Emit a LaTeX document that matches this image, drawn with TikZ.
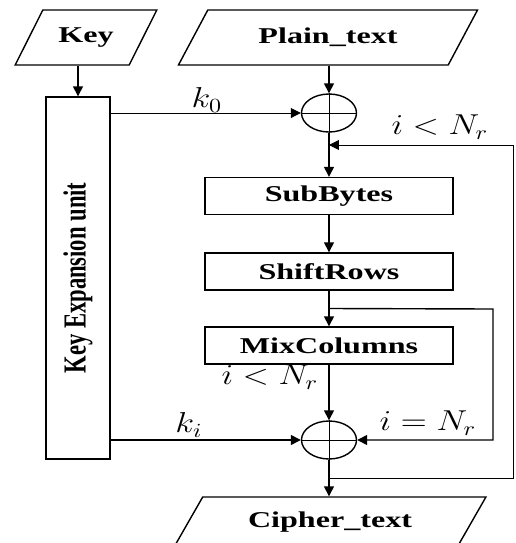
\documentclass[tikz,border=0pt]{standalone}
\usepackage{fontspec}
\setmainfont{Liberation Serif}
\usepackage{graphicx}
\usetikzlibrary{arrows.meta,shapes.geometric,calc}

% the whole figure is stretched sideways
\newcommand{\wide}[1]{\scalebox{1.42}[1]{#1}}
\newcommand{\mwide}[1]{\scalebox{1.2}[1]{#1}}

\begin{document}
\begin{tikzpicture}[x=0.5pt, y=-0.5pt, line width=0.7pt, >={Triangle[length=5pt,width=5pt]},
	io/.style={draw, trapezium, trapezium left angle=48, trapezium right angle=132, trapezium stretches=true, minimum height=27.5pt, inner sep=0pt, font=\bfseries\fontsize{11.3}{13}\selectfont},
	blk/.style={draw, rectangle, minimum width=124pt, minimum height=18.5pt, inner sep=0pt, font=\bfseries\fontsize{11.3}{13}\selectfont},
	xor/.style={draw, ellipse, minimum width=27.5pt, minimum height=19pt, inner sep=0pt},
	lab/.style={font=\fontsize{14}{16}\selectfont, inner sep=0pt},
	thinline/.style={line width=0.45pt}]
	\clip (0,0) rectangle (516,543);
	% inputs and output
	\node[io, minimum width=71pt] (key) at (86,37.5) {\wide{Key}};
	\node[io, minimum width=150.5pt] (plain) at (328,37.5) {\wide{Plain\_text}};
	\node[io, minimum width=157pt, minimum height=25pt] (cipher) at (330,522) {\wide{Cipher\_text}};
	% key schedule
	\node[draw, minimum width=32pt, minimum height=181pt, inner sep=0pt] (kexp) at (78,278) {};
	\node[rotate=90, font=\bfseries\fontsize{11.3}{13}\selectfont] (kexplbl) at (kexp) {\scalebox{1}[1.42]{Key Expansion unit}};
	% round
	\node[xor] (x0) at (329,113) {};
	\node[blk] (sub) at (329,196) {\wide{SubBytes}};
	\node[blk] (shift) at (329,271.5) {\wide{ShiftRows}};
	\node[blk] (mix) at (329,345.5) {\wide{MixColumns}};
	\node[xor] (x1) at (329,440) {};
	\draw[thinline] (x0.north) -- (x0.south) (x0.west) -- (x0.east);
	\draw[thinline] (x1.north) -- (x1.south) (x1.west) -- (x1.east);
	% connectors
	\draw[->] (kexp.north |- key.south) -- (kexp.north);
	\draw[->] (x0.north |- plain.south) -- (x0.north);
	\draw[->, thinline] (kexp.east |- x0) -- (x0.west);
	\draw[->] (x0.south) -- (sub.north);
	\draw[->] (sub.south) -- (shift.north);
	\draw[->] (shift.south) -- (mix.north);
	\draw[->] (mix.south) -- (x1.north);
	\draw[->] (kexp.east |- x1) -- (x1.west);
	\draw[->] (x1.south) -- (x1.south |- cipher.north);
	% last round skips MixColumns
	\coordinate (tap2) at ($(shift.south)!0.5!(mix.north)$);
	\coordinate (rail2) at (493,309);
	\draw[->] (tap2) -- (rail2) |- (x1.east);
	% loop back
	\coordinate (tap1) at (329,478);
	\coordinate (rail1) at (513,145);
	\draw[->, thinline] (tap1) -- (tap1 -| rail1) -- (rail1) -- (x0 |- rail1);
	% labels
	\node[lab] (k0) at (207,100) {\mwide{$k_0$}};
	\node[lab] (ki) at (189,425) {\mwide{$k_i$}};
	\node[lab] (loopc) at (440,127) {\mwide{$i<N_r$}};
	\node[lab] (midc) at (270,377) {\mwide{$i<N_r$}};
	\node[lab] (lastc) at (428,423) {\mwide{$i=N_r$}};
\end{tikzpicture}
\end{document}
